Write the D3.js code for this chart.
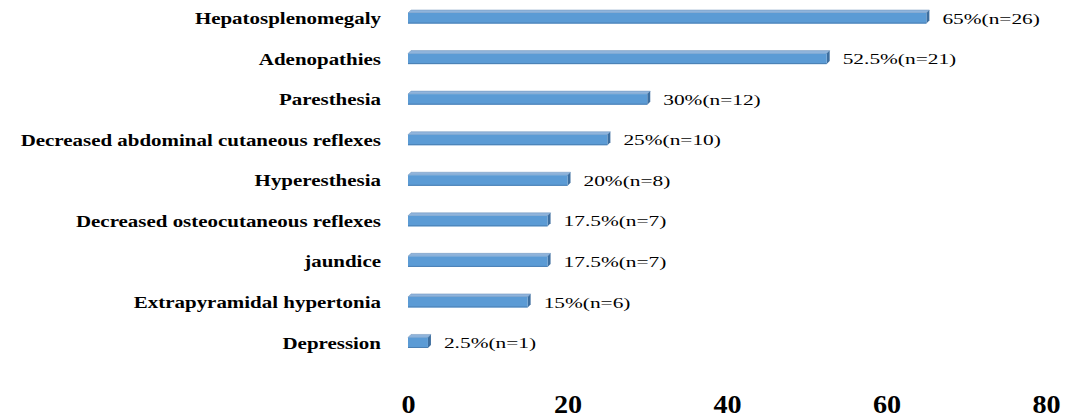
<!DOCTYPE html>
<html><head><meta charset="utf-8">
<script src="https://cdn.jsdelivr.net/npm/d3@7"></script>
<style>body{margin:0;background:#fff}svg{display:block}text{font-family:"Liberation Serif","Times New Roman",serif}</style>
</head><body>
<svg id="c" width="1072" height="419"></svg>
<script>
const categories = ["Hepatosplenomegaly","Adenopathies","Paresthesia","Decreased abdominal cutaneous reflexes","Hyperesthesia","Decreased osteocutaneous reflexes","jaundice","Extrapyramidal hypertonia","Depression"];
const values = [65,52.5,30,25,20,17.5,17.5,15,2.5];
const counts = [26,21,12,10,8,7,7,6,1];
const xTicks = [0,20,40,60,80];

const svg = d3.select("#c");
const x = d3.scaleLinear().domain([0,80]).range([408,1046]);
const y = d3.scaleBand().domain(categories).range([-2,363]).paddingInner(0.74).paddingOuter(0.37);
const d = 3; // depth
const g = svg.append("g");
categories.forEach((c,i)=>{
  const x0 = x(0), x1 = x(values[i]), yy = y(c), h = y.bandwidth();
  g.append("path").attr("d",`M${x0},${yy} L${x0+d},${yy-d} L${x1+d},${yy-d} L${x1},${yy} Z`).attr("fill","#8fb4dc").attr("stroke","#6f93bb").attr("stroke-width",0.5);
  g.append("path").attr("d",`M${x1},${yy} L${x1+d},${yy-d} L${x1+d},${yy+h-d} L${x1},${yy+h} Z`).attr("fill","#3d6e9f");
  g.append("rect").attr("x",x0).attr("y",yy).attr("width",x1-x0).attr("height",h).attr("fill","#5b9bd5");
  g.append("line").attr("x1",x0).attr("x2",x1).attr("y1",yy+h-0.5).attr("y2",yy+h-0.5).attr("stroke","#4a7fb3").attr("stroke-width",1);
  g.append("text").attr("transform",`translate(${x1+d+13},${yy+h/2}) scale(1.38,1)`).attr("dy","0.35em")
    .attr("font-size",15.5).attr("fill","#000")
    .text(`${values[i]}%(n=${counts[i]})`);
  g.append("text").attr("transform",`translate(381,${yy+h/2}) scale(1.27,1)`).attr("dy","0.35em").attr("text-anchor","end")
    .attr("font-weight","bold").attr("font-size",16.5).attr("fill","#000")
    .text(c);
});
const ax = svg.append("g").attr("transform","translate(0,395.6)")
  .call(d3.axisBottom(x).tickValues(xTicks).tickSize(0).tickPadding(0).tickFormat(d3.format("d")));
ax.select(".domain").remove();
ax.selectAll("text").attr("font-weight","bold").attr("font-size",24.5).attr("fill","#000")
  .attr("transform","scale(1.15,1)");
</script>
</body></html>
